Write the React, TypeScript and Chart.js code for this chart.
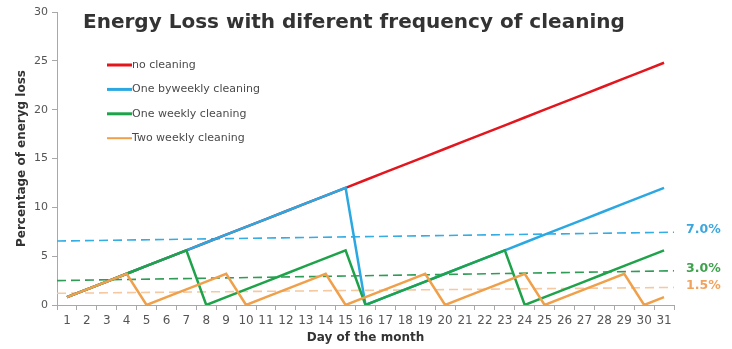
import React, { useEffect, useRef } from "react";
import { Chart, registerables } from "chart.js";

Chart.register(...registerables);

const FONT = "'DejaVu Sans', Verdana, sans-serif";

const days = [
  "1", "2", "3", "4", "5", "6", "7", "8", "9", "10", "11", "12", "13", "14", "15", "16",
  "17", "18", "19", "20", "21", "22", "23", "24", "25", "26", "27", "28", "29", "30", "31",
];

// Accumulated energy loss (%) per day of the month
const noCleaning = [
  0.8, 1.6, 2.4, 3.2, 4.0, 4.8, 5.6, 6.4, 7.2, 8.0, 8.8, 9.6, 10.4, 11.2, 12.0, 12.8,
  13.6, 14.4, 15.2, 16.0, 16.8, 17.6, 18.4, 19.2, 20.0, 20.8, 21.6, 22.4, 23.2, 24.0, 24.8,
];
const biweeklyCleaning = [
  0.8, 1.6, 2.4, 3.2, 4.0, 4.8, 5.6, 6.4, 7.2, 8.0, 8.8, 9.6, 10.4, 11.2, 12.0, 0,
  0.8, 1.6, 2.4, 3.2, 4.0, 4.8, 5.6, 6.4, 7.2, 8.0, 8.8, 9.6, 10.4, 11.2, 12.0,
];
const weeklyCleaning = [
  0.8, 1.6, 2.4, 3.2, 4.0, 4.8, 5.6, 0, 0.8, 1.6, 2.4, 3.2, 4.0, 4.8, 5.6, 0,
  0.8, 1.6, 2.4, 3.2, 4.0, 4.8, 5.6, 0, 0.8, 1.6, 2.4, 3.2, 4.0, 4.8, 5.6,
];
const twiceWeeklyCleaning = [
  0.8, 1.6, 2.4, 3.2, 0, 0.8, 1.6, 2.4, 3.2, 0, 0.8, 1.6, 2.4, 3.2, 0, 0.8,
  1.6, 2.4, 3.2, 0, 0.8, 1.6, 2.4, 3.2, 0, 0.8, 1.6, 2.4, 3.2, 0, 0.8,
];

// Average-loss trend lines: value at the left and right edge of the plot
const trendStart = [6.55, 2.5, 1.2];
const trendEnd = [7.45, 3.5, 1.8];

const seriesNames = [
  "no cleaning",
  "One byweekly cleaning",
  "One weekly cleaning",
  "Two weekly cleaning",
];

const RED = "#e3151d";
const BLUE = "#2ba8e1";
const GREEN = "#1ea34b";
const ORANGE = "#f0a04a";

const trendColors = ["#34ade4", "#2f9c55", "#f5c8a0"];
const trendLabelColors = ["#3ba7df", "#3ea24d", "#f0a35c"];

const titlePlugin = {
  id: "chartHeading",
  afterDraw(chart: any) {
    const { ctx } = chart;
    ctx.save();
    ctx.font = `bold 20px ${FONT}`;
    ctx.fillStyle = "#333333";
    ctx.textBaseline = "alphabetic";
    ctx.textAlign = "left";
    ctx.fillText("Energy Loss with diferent frequency of cleaning", 83, 28);
    ctx.restore();
  },
};

const legendPlugin = {
  id: "innerLegend",
  afterDraw(chart: any) {
    const { ctx } = chart;
    const colors = [RED, BLUE, GREEN, ORANGE];
    const widths = [3, 3, 3, 2];
    ctx.save();
    ctx.font = `11px ${FONT}`;
    ctx.textBaseline = "middle";
    ctx.textAlign = "left";
    seriesNames.forEach((name, i) => {
      const y = 65 + i * 24.4;
      ctx.strokeStyle = colors[i];
      ctx.lineWidth = widths[i];
      ctx.beginPath();
      ctx.moveTo(107, y);
      ctx.lineTo(132, y);
      ctx.stroke();
      ctx.fillStyle = "#4a4a4a";
      ctx.fillText(name, 132, y);
    });
    ctx.restore();
  },
};

const trendLabelPlugin = {
  id: "trendLabels",
  afterDraw(chart: any) {
    const { ctx } = chart;
    const yScale = chart.scales.y;
    ctx.save();
    ctx.font = `bold 12.5px ${FONT}`;
    ctx.textBaseline = "middle";
    ctx.textAlign = "left";
    trendStart.forEach((start, i) => {
      const avg = (start + trendEnd[i]) / 2;
      const y = yScale.getPixelForValue(trendEnd[i]) - 2;
      ctx.fillStyle = trendLabelColors[i];
      ctx.fillText(`${avg.toFixed(1)}%`, 686, y);
    });
    ctx.restore();
  },
};

export default function App() {
  const canvasRef = useRef<HTMLCanvasElement | null>(null);

  useEffect(() => {
    if (!canvasRef.current) return;

    const solid = (label: string, data: number[], color: string, order: number) => ({
      label,
      data,
      borderColor: color,
      backgroundColor: color,
      borderWidth: 2.5,
      pointRadius: 0,
      tension: 0,
      order,
      xAxisID: "x",
    });

    const trend = (i: number) => ({
      label: `trend${i}`,
      data: [
        { x: 0.5, y: trendStart[i] },
        { x: 31.5, y: trendEnd[i] },
      ],
      borderColor: trendColors[i],
      borderWidth: 1.6,
      borderDash: [9, 5],
      pointRadius: 0,
      order: 10,
      xAxisID: "xm",
    });

    const chart = new Chart(canvasRef.current, {
      type: "line",
      data: {
        labels: days,
        datasets: [
          solid(seriesNames[0], noCleaning, RED, 4),
          solid(seriesNames[1], biweeklyCleaning, BLUE, 3),
          solid(seriesNames[2], weeklyCleaning, GREEN, 2),
          solid(seriesNames[3], twiceWeeklyCleaning, ORANGE, 1),
          trend(0),
          trend(1),
          trend(2),
        ] as any,
      },
      options: {
        responsive: false,
        animation: false,
        layout: { padding: { top: 12, right: 58, left: 0, bottom: 0 } },
        plugins: {
          legend: { display: false },
          tooltip: { enabled: false },
          title: { display: false },
        },
        scales: {
          x: {
            type: "category",
            offset: true,
            grid: {
              offset: true,
              drawOnChartArea: false,
              drawTicks: true,
              tickLength: 5,
              color: "#a8a8a8",
            },
            border: { color: "#a8a8a8" },
            ticks: {
              color: "#555555",
              font: { family: FONT, size: 12 },
              padding: 4,
              autoSkip: false,
              maxRotation: 0,
            },
            title: {
              display: true,
              text: "Day of the month",
              color: "#333333",
              font: { family: FONT, size: 12, weight: "bold" },
              padding: { top: 0, bottom: 4 },
            },
            afterFit(scale: any) {
              scale.height = 44;
            },
          },
          xm: {
            type: "linear",
            display: false,
            min: 0.5,
            max: 31.5,
          },
          y: {
            min: 0,
            max: 30,
            ticks: {
              stepSize: 5,
              color: "#555555",
              font: { family: FONT, size: 11 },
              padding: 4,
            },
            grid: {
              drawOnChartArea: false,
              drawTicks: true,
              tickLength: 5,
              color: "#a8a8a8",
            },
            border: { color: "#a8a8a8" },
            title: {
              display: true,
              text: "Percentage of eneryg loss",
              color: "#333333",
              font: { family: FONT, size: 12, weight: "bold" },
              padding: { top: 15, bottom: 0 },
            },
            afterFit(scale: any) {
              scale.width = 57;
            },
          },
        },
      } as any,
      plugins: [titlePlugin, legendPlugin, trendLabelPlugin],
    });

    return () => chart.destroy();
  }, []);

  return (
    <div style={{ position: "fixed", left: 0, top: 0, width: 732, height: 349, background: "#ffffff" }}>
      <canvas ref={canvasRef} width={732} height={349} />
    </div>
  );
}
